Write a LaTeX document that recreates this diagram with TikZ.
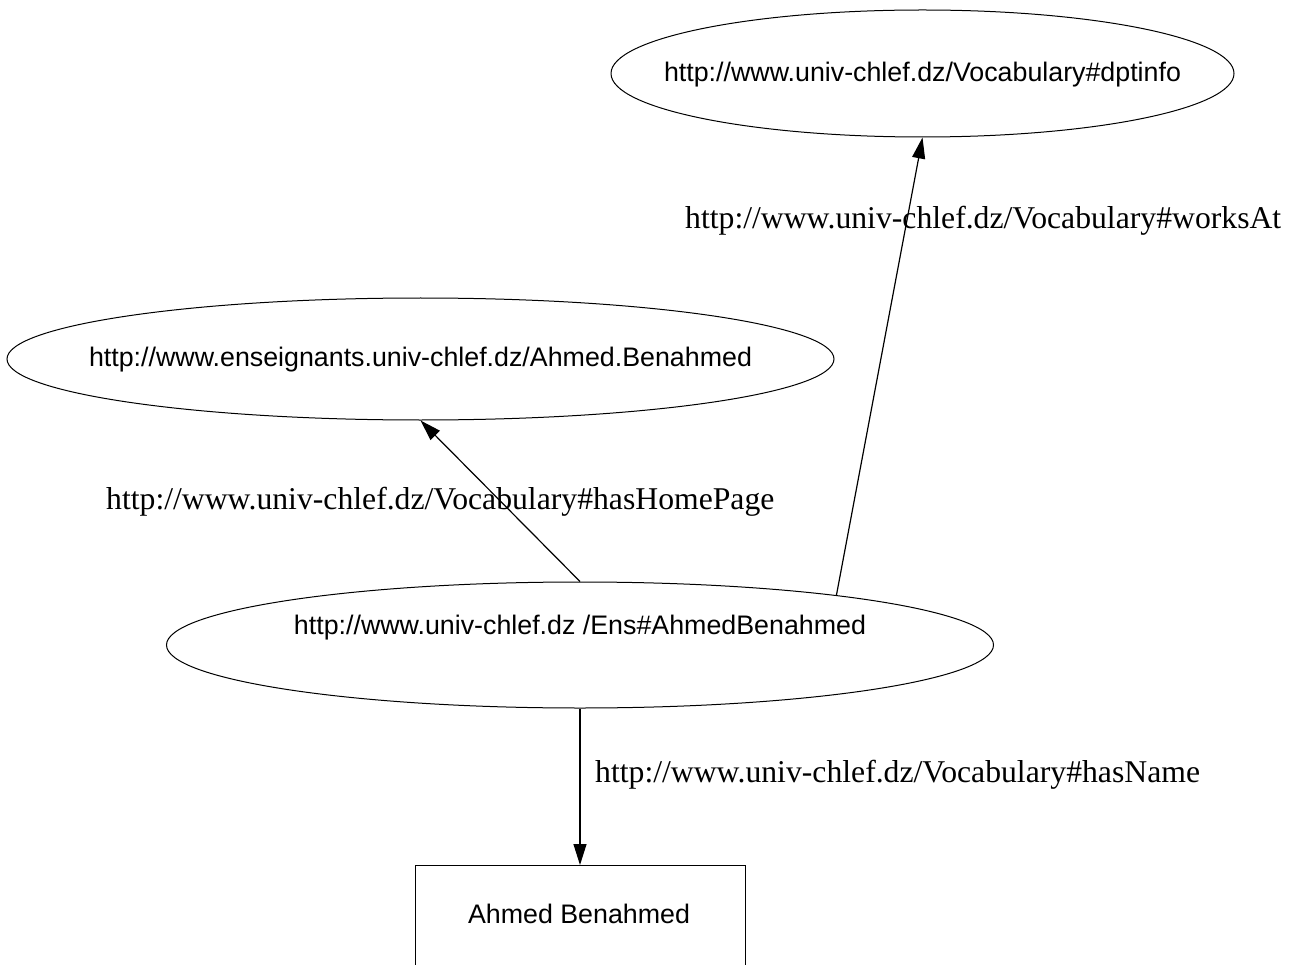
\documentclass[tikz,border=0pt]{standalone}
\usepackage{fontspec}
\setmainfont{Liberation Serif}
\newfontfamily\nodefont{Liberation Sans}
\usetikzlibrary{shapes.geometric,arrows.meta}
\tikzset{
  ellnode/.style={draw, ellipse, inner sep=0pt, line width=1pt},
  boxnode/.style={draw, rectangle, inner sep=0pt, line width=1pt, minimum width=330pt, minimum height=130pt},
  ntext/.style={anchor=base, inner sep=0pt, font=\nodefont\fontsize{26.8}{32}\selectfont},
  elabel/.style={anchor=base west, inner sep=0pt, font=\fontsize{31.7}{36}\selectfont},
  conn/.style={line width=1.2pt, -{Triangle[length=21pt,width=13pt]}}
}
\begin{document}
\begin{tikzpicture}[x=1pt,y=-1pt]
\clip (0,0) rectangle (1292,965);
\fill[white] (0,0) rectangle (1292,965);
% nodes
\node[ellnode, minimum width=623pt, minimum height=127pt] (e1) at (922.5,73.5) {};
\node[ntext] (t1) at (922.5,82) {http://www.univ-chlef.dz/Vocabulary\#dptinfo};
\node[ellnode, minimum width=827pt, minimum height=122pt] (e2) at (420.5,359) {};
\node[ntext] (t2) at (420.5,366) {http://www.enseignants.univ-chlef.dz/Ahmed.Benahmed};
\node[ellnode, minimum width=827pt, minimum height=126pt] (e3) at (580,645) {};
\node[ntext] (t3) at (580,634) {http://www.univ-chlef.dz /Ens\#AhmedBenahmed};
\node[boxnode, anchor=north] (b) at (580,865) {};
\node[ntext] (tb) at (579,923) {Ahmed Benahmed};
% connectors
\draw[conn] (e3.north) -- (e2.south);
\draw[conn] (e3.11.9) -- (e1.south);
\draw[conn] (e3.south) -- (b.north);
% edge labels
\node[elabel] (l1) at (685,229) {http://www.univ-chlef.dz/Vocabulary\#worksAt};
\node[elabel] (l2) at (106,509) {http://www.univ-chlef.dz/Vocabulary\#hasHomePage};
\node[elabel] (l3) at (595,782) {http://www.univ-chlef.dz/Vocabulary\#hasName};
\end{tikzpicture}
\end{document}
